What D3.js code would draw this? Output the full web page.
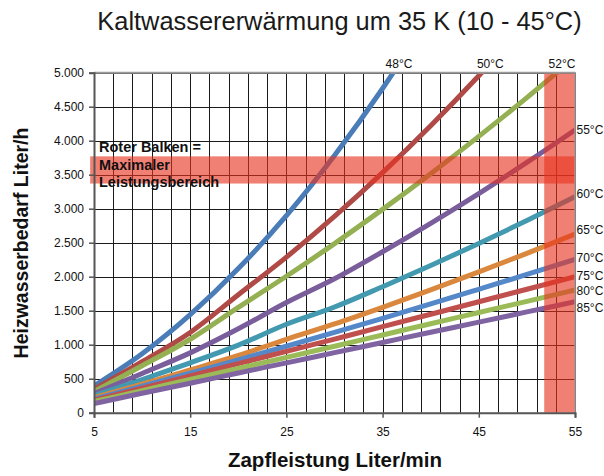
<!DOCTYPE html>
<html><head><meta charset="utf-8">
<script src="https://cdn.jsdelivr.net/npm/d3@7"></script>
<style>body{margin:0;background:#fff}svg{display:block;font-family:"Liberation Sans",Arial,sans-serif}</style>
</head><body><svg id="c" width="604" height="476"></svg>
<script>
// ---- data ----
const flowLpm = [5, 10, 15, 20, 25, 30, 35, 40, 45, 50, 55];
const seriesNames = ["48°C","50°C","52°C","55°C","60°C","65°C","70°C","75°C","80°C","85°C"];
const heat48 = [395, 867, 1442, 2119, 2899, 3783, 4768, 5857, null, null, null];
const heat50 = [344, 750, 1180, 1734, 2288, 2887, 3531, 4220, 4955, 5735, null];
const heat52 = [309, 690, 1080, 1548, 2006, 2487, 2990, 3515, 4064, 4634, 5228];
const heat55 = [279, 577, 880, 1234, 1620, 1969, 2367, 2785, 3222, 3680, 4157];
const heat60 = [250, 485, 733, 994, 1300, 1554, 1853, 2164, 2488, 2825, 3176];
const heat65 = [221, 419, 630, 842, 1080, 1305, 1550, 1805, 2070, 2344, 2628];
const heat70 = [201, 389, 582, 777, 977, 1181, 1388, 1599, 1815, 2033, 2256];
const heat75 = [182, 361, 540, 722, 901, 1083, 1265, 1448, 1631, 1815, 2000];
const heat80 = [162, 325, 488, 651, 814, 978, 1143, 1308, 1473, 1638, 1804];
const heat85 = [135, 285, 434, 584, 733, 883, 1033, 1183, 1332, 1482, 1632];
const xTicks = [5, 15, 25, 35, 45, 55];
const yTicks = [0, 500, 1000, 1500, 2000, 2500, 3000, 3500, 4000, 4500, 5000];
const bandLoadRange = [3370, 3770];   // horizontal red bar (Liter/h)
const bandFlowRange = [51.8, 55.1];   // vertical red bar (Liter/min)
const topLabelFlow = [36.7, 46.2, 53.65];
const titleText = "Kaltwassererwärmung um 35 K (10 - 45°C)";
const xTitle = "Zapfleistung Liter/min";
const yTitle = "Heizwasserbedarf Liter/h";
const noteLines = ["Roter Balken =", "Maximaler", "Leistungsbereich"];

const allSeries = [heat48, heat50, heat52, heat55, heat60, heat65, heat70, heat75, heat80, heat85];
const colors = ["#4A7DB8","#B04A47","#94B053","#7A5E9C","#4399B0","#DA883E","#5588C8","#C0504D","#9BBB59","#8064A2"];
const rightNudge = [3, 0, -1, 2, 2.5, 4, 9]; // label offsets for 55..85

const svg = d3.select("#c");
const x = d3.scaleLinear().domain([5, 55]).range([94, 575]);
const y = d3.scaleLinear().domain([0, 5000]).range([412.7, 72.7]);
const de = d3.formatLocale({decimal: ",", thousands: ".", grouping: [3], currency: ["", "€"]});
const fmt = de.format(",");

svg.append("rect").attr("width", 604).attr("height", 476).attr("fill", "#fff");

// title
svg.append("text").attr("x", 339.5).attr("y", 30).attr("text-anchor", "middle")
  .attr("font-size", 25.4).attr("fill", "#1a1a1a").text(titleText);

// grid
const g = svg.append("g");
g.selectAll("line.v").data(d3.range(5, 56, 2)).join("line")
  .attr("x1", d => Math.round(x(d)) + 0.5).attr("x2", d => Math.round(x(d)) + 0.5)
  .attr("y1", y(5000)).attr("y2", y(0)).attr("stroke", "#1a1a1a").attr("stroke-width", 1);
g.selectAll("line.h").data(yTicks).join("line")
  .attr("x1", x(5)).attr("x2", x(55))
  .attr("y1", d => Math.round(y(d)) + 0.5).attr("y2", d => Math.round(y(d)) + 0.5)
  .attr("stroke", "#1a1a1a").attr("stroke-width", 1);

// clip
svg.append("clipPath").attr("id", "clip").append("rect")
  .attr("x", x(5)).attr("y", y(5000)).attr("width", x(55) - x(5)).attr("height", y(0) - y(5000));

const line = d3.line()
  .defined(d => d[1] != null)
  .x(d => x(d[0])).y(d => y(d[1]))
  .curve(d3.curveMonotoneX);

svg.append("g").attr("clip-path", "url(#clip)")
  .selectAll("path").data(allSeries).join("path")
  .attr("d", s => line(flowLpm.map((f, i) => [f, s[i]])))
  .attr("fill", "none").attr("stroke", (d, i) => colors[i])
  .attr("stroke-width", 5).attr("stroke-linecap", "butt").attr("stroke-linejoin", "round");

// red bars
const bandColor = "#E8321E", bandOp = 0.62;
svg.append("rect")
  .attr("x", x(4.6)).attr("width", x(55.1) - x(4.6))
  .attr("y", y(bandLoadRange[1])).attr("height", y(bandLoadRange[0]) - y(bandLoadRange[1]))
  .attr("fill", bandColor).attr("opacity", bandOp);
svg.append("rect")
  .attr("x", x(bandFlowRange[0])).attr("width", x(bandFlowRange[1]) - x(bandFlowRange[0]))
  .attr("y", y(5000)).attr("height", y(0) - y(5000))
  .attr("fill", bandColor).attr("opacity", bandOp);

// frame
svg.append("line").attr("x1", x(5)).attr("x2", x(55)).attr("y1", y(5000)).attr("y2", y(5000))
  .attr("stroke", "#9a9a9a").attr("stroke-width", 2);
svg.append("line").attr("x1", x(55)).attr("x2", x(55)).attr("y1", y(5000)).attr("y2", y(0))
  .attr("stroke", "#9a9a9a").attr("stroke-width", 1.5);

// axes
const yAxis = svg.append("g").attr("transform", `translate(${x(5)},0)`)
  .call(d3.axisLeft(y).tickValues(yTicks).tickFormat(fmt).tickSize(5).tickPadding(5));
const xAxis = svg.append("g").attr("transform", `translate(0,${y(0)})`)
  .call(d3.axisBottom(x).tickValues(xTicks).tickFormat(d3.format("d")).tickSize(5).tickPadding(10));
[yAxis, xAxis].forEach(a => {
  a.select(".domain").attr("stroke", "#555").attr("stroke-width", 2);
  a.selectAll(".tick line").attr("stroke", "#555").attr("stroke-width", 1.5);
  a.selectAll(".tick text").attr("font-size", 12).attr("fill", "#111")
    .attr("font-family", "Liberation Sans, Arial, sans-serif");
});

// series labels
seriesNames.slice(0, 3).forEach((n, i) => {
  svg.append("text").attr("x", x(topLabelFlow[i])).attr("y", 68)
    .attr("text-anchor", "middle").attr("font-size", 12).attr("fill", "#111").text(n);
});
seriesNames.slice(3).forEach((n, i) => {
  const s = allSeries[i + 3];
  svg.append("text").attr("x", x(55) + 1.5).attr("y", y(s[s.length - 1]) + rightNudge[i] + 1)
    .attr("font-size", 12).attr("fill", "#111").text(n);
});

// note
svg.append("text").attr("x", 99).attr("y", 152).attr("font-size", 14.5).attr("font-weight", "bold")
  .attr("fill", "#111")
  .selectAll("tspan").data(noteLines).join("tspan")
  .attr("x", 99).attr("dy", (d, i) => i ? 17.5 : 0).text(d => d);

// axis titles
svg.append("text").attr("x", 335).attr("y", 467).attr("text-anchor", "middle")
  .attr("font-size", 20.5).attr("font-weight", "bold").attr("fill", "#111").text(xTitle);
svg.append("text").attr("transform", "translate(28,243) rotate(-90)").attr("text-anchor", "middle")
  .attr("font-size", 19.5).attr("font-weight", "bold").attr("fill", "#111").text(yTitle);
</script></body></html>
